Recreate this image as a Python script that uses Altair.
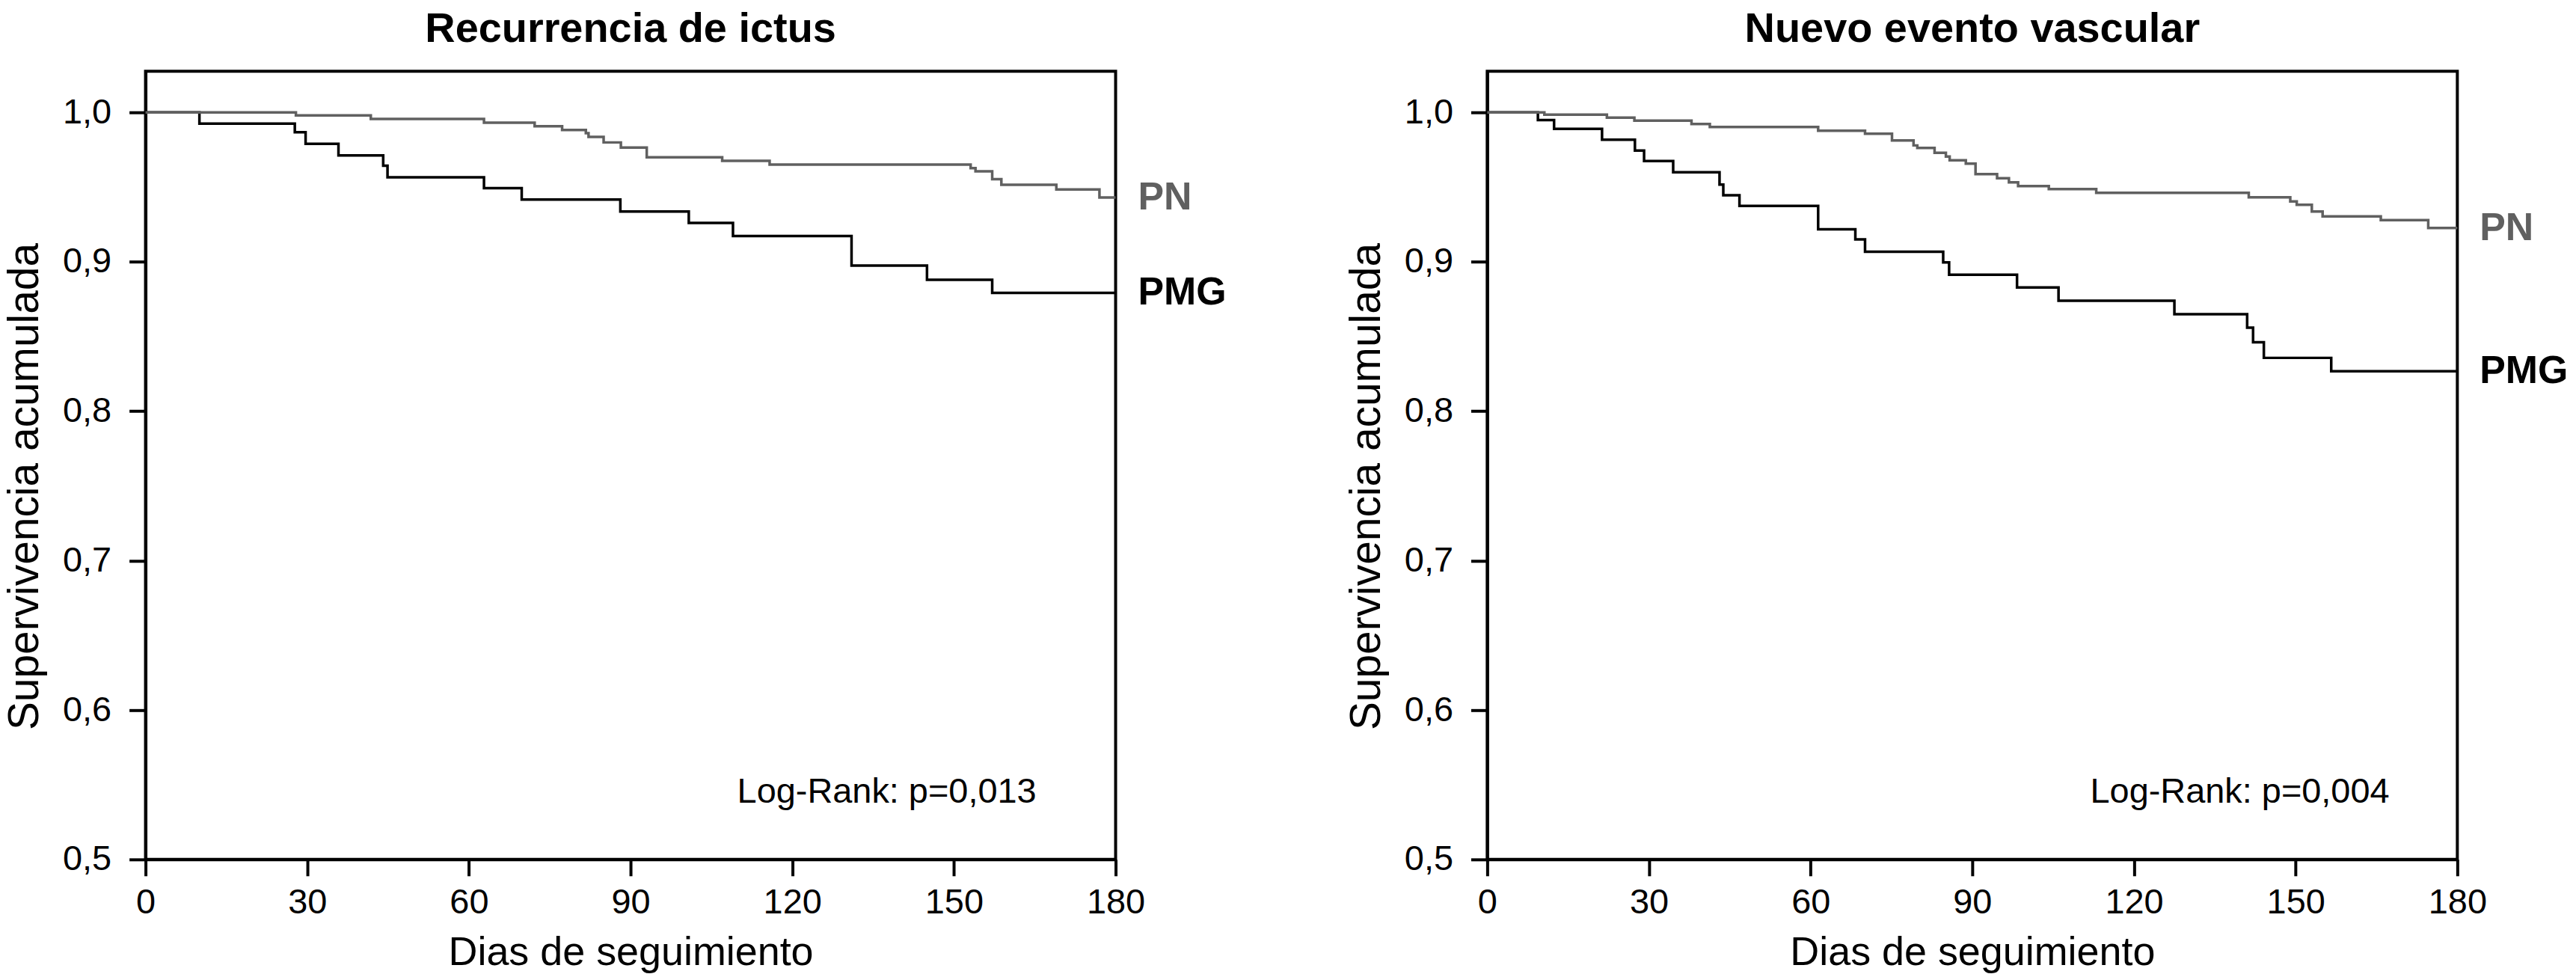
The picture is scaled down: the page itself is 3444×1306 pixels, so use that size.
import altair as alt
import pandas as pd

FONT = "Liberation Sans, Arial, Helvetica, sans-serif"

# ---- Panel 1: Recurrencia de ictus ----
p1_title = "Recurrencia de ictus"
p1_logrank = "Log-Rank: p=0,013"
p1_pmg_days = [0, 10, 27.7, 29.7, 35.8, 44.1, 44.9, 62.8, 69.8, 88.1, 100.8, 109, 131, 145, 157.1, 180]
p1_pmg_surv = [1.0, 0.9925, 0.9867, 0.979, 0.9712, 0.9643, 0.9565, 0.9493, 0.9417, 0.9337, 0.926,
               0.9173, 0.8975, 0.888, 0.8792, 0.8792]
p1_pn_days = [0, 27.9, 41.8, 62.8, 72.2, 77.3, 81.7, 82.2, 85, 88.2, 93, 107, 115.8, 153.1, 154,
              157.1, 158.8, 169, 177, 180]
p1_pn_surv = [1.0, 0.998, 0.9956, 0.9931, 0.9907, 0.9882, 0.9861, 0.9836, 0.9799, 0.9764, 0.970,
              0.9676, 0.9651, 0.9627, 0.9606, 0.9553, 0.9516, 0.9484, 0.943, 0.943]

# ---- Panel 2: Nuevo evento vascular ----
p2_title = "Nuevo evento vascular"
p2_logrank = "Log-Rank: p=0,004"
p2_pmg_days = [0, 9.4, 12.4, 21.3, 27.4, 29.1, 34.5, 43.1, 43.8, 46.8, 61.4, 68.3, 70.1, 84.6, 85.7,
               98.3, 106, 127.5, 141, 142.1, 144.1, 156.6, 180]
p2_pmg_surv = [1.0, 0.9948, 0.989, 0.9817, 0.9745, 0.9674, 0.9599, 0.9517, 0.9445, 0.9374, 0.9217,
               0.915, 0.9067, 0.8996, 0.8913, 0.8828, 0.874, 0.8649, 0.8559, 0.8462, 0.8357, 0.8268, 0.8268]
p2_pn_days = [0, 10.6, 22.2, 27.3, 37.9, 41.3, 61.4, 70.1, 75.1, 79.1, 79.8, 83, 85.1, 85.8, 88.8,
              90.6, 94.6, 96.8, 98.5, 104.2, 113, 141.3, 149, 150.2, 153, 155, 165.8, 174.6, 180]
p2_pn_surv = [1.0, 0.9985, 0.9965, 0.9945, 0.9922, 0.9902, 0.9877, 0.9857, 0.9812, 0.9779, 0.9762,
              0.9729, 0.9704, 0.9679, 0.9657, 0.9587, 0.9559, 0.9532, 0.9507, 0.9487, 0.9462, 0.9432,
              0.9404, 0.9382, 0.9337, 0.9304, 0.9279, 0.9226, 0.9226]

groups = ["PN", "PMG"]
group_colors = ["#606060", "#000000"]
x_ticks = [0, 30, 60, 90, 120, 150, 180]
y_ticks = [0.5, 0.6, 0.7, 0.8, 0.9, 1.0]
x_title = "Dias de seguimiento"
y_title = "Supervivencia acumulada"


def panel(title, pmg_d, pmg_s, pn_d, pn_s, logrank, lr_x):
    rows = [{"grupo": "PMG", "dia": d, "surv": s, "o": i} for i, (d, s) in enumerate(zip(pmg_d, pmg_s))]
    rows += [{"grupo": "PN", "dia": d, "surv": s, "o": i} for i, (d, s) in enumerate(zip(pn_d, pn_s))]
    df = pd.DataFrame(rows)
    ends = pd.DataFrame([
        {"grupo": "PN", "dia": pn_d[-1], "surv": pn_s[-1]},
        {"grupo": "PMG", "dia": pmg_d[-1], "surv": pmg_s[-1]},
    ])

    xs = alt.Scale(domain=[0, 180], nice=False, zero=False)
    ys = alt.Scale(domain=[0.5, 1.0275], nice=False, zero=False)
    col = alt.Color("grupo:N", scale=alt.Scale(domain=groups, range=group_colors), legend=None)

    xaxis = alt.Axis(values=x_ticks, title=x_title, titleX=650, titleY=125, labelFlush=False,
                     titleBaseline="middle", titleAlign="center")
    yaxis = alt.Axis(values=y_ticks, title=y_title, titleFontSize=57,
                     labelExpr="replace(format(datum.value, '.1f'), '.', ',')",
                     titleX=-161, titleY=556, titleAngle=270,
                     titleBaseline="middle", titleAlign="center")

    lines = alt.Chart(df).mark_line(interpolate="step-after", strokeWidth=3.5).encode(
        x=alt.X("dia:Q", scale=xs, axis=xaxis),
        y=alt.Y("surv:Q", scale=ys, axis=yaxis),
        color=col,
        order="o:Q",
    )
    labels = alt.Chart(ends).mark_text(
        align="left", baseline="middle", dx=30, fontSize=52, fontWeight="bold", font=FONT
    ).encode(
        x=alt.X("dia:Q", scale=xs),
        y=alt.Y("surv:Q", scale=ys),
        text="grupo:N",
        color=col,
    )
    lr = alt.Chart().mark_text(
        align="right", baseline="alphabetic", fontSize=47, font=FONT, color="black"
    ).encode(
        x=alt.datum(lr_x, scale=xs),
        y=alt.datum(0.538, scale=ys),
        text=alt.value(logrank),
    )
    return alt.layer(lines, labels, lr).properties(
        width=1300, height=1056,
        title=alt.TitleParams(title, fontSize=56, fontWeight="bold", font=FONT, color="black",
                              anchor="middle", frame="group", offset=27),
    )


left = panel(p1_title, p1_pmg_days, p1_pmg_surv, p1_pn_days, p1_pn_surv, p1_logrank, 165.3)
right = panel(p2_title, p2_pmg_days, p2_pmg_surv, p2_pn_days, p2_pn_surv, p2_logrank, 167.4)

chart = alt.hconcat(left, right, spacing=155).properties(
    padding={"left": -5, "top": 0, "right": 0, "bottom": 0}
).configure_view(
    stroke="black", strokeWidth=4
).configure_axis(
    grid=False,
    domainColor="black", domainWidth=4,
    tickColor="black", tickWidth=4, tickSize=22,
    labelFont=FONT, labelFontSize=47, labelColor="black",
    titleFont=FONT, titleFontSize=54, titleFontWeight="normal", titleColor="black",
).configure_axisX(labelPadding=13).configure_axisY(labelPadding=24)

chart.save("out.html", embed_options={"renderer": "svg", "actions": False})
